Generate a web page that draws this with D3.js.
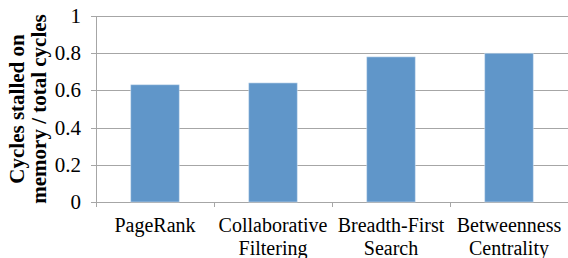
<!DOCTYPE html>
<html>
<head>
<meta charset="utf-8">
<script src="https://cdn.jsdelivr.net/npm/d3@7"></script>
<style>
  body { margin: 0; background: #fff; }
  text { font-family: "Liberation Serif", "Times New Roman", serif; fill: #000; }
</style>
</head>
<body>
<div id="chart"></div>
<script>
// data
var categories = [["PageRank"], ["Collaborative", "Filtering"], ["Breadth-First", "Search"], ["Betweenness", "Centrality"]];
var values = [0.63, 0.64, 0.78, 0.80];
var yTicks = [0, 0.2, 0.4, 0.6, 0.8, 1];
var yTitle = ["Cycles stalled on", "memory / total cycles"];

var W = 568, H = 258;
var margin = {top: 16, right: 0, bottom: 56, left: 96};
var width = W - margin.left - margin.right,
    height = H - margin.top - margin.bottom;

var svg = d3.select("#chart").append("svg")
    .attr("width", W)
    .attr("height", H);

var g = svg.append("g")
    .attr("transform", "translate(" + margin.left + "," + margin.top + ")");

var x = d3.scaleBand()
    .domain(d3.range(categories.length))
    .range([0, width])
    .paddingInner(0.59)
    .paddingOuter(0.295);

var y = d3.scaleLinear().domain([0, 1]).range([height, 0]);

// gridlines
g.append("g")
    .selectAll("line")
    .data(yTicks)
    .enter().append("line")
    .attr("x1", -5)
    .attr("x2", width)
    .attr("y1", function (d) { return Math.round(y(d)) + 0.5; })
    .attr("y2", function (d) { return Math.round(y(d)) + 0.5; })
    .attr("stroke", "#a6a6a6")
    .attr("stroke-width", 1);

// y labels
g.append("g")
    .selectAll("text")
    .data(yTicks)
    .enter().append("text")
    .attr("x", -15)
    .attr("y", function (d) { return y(d); })
    .attr("dy", "0.33em")
    .attr("text-anchor", "end")
    .style("font-size", "21px")
    .text(function (d) { return d3.format("~g")(d); });

// bars
g.append("g")
    .selectAll("rect")
    .data(values)
    .enter().append("rect")
    .attr("x", function (d, i) { return x(i); })
    .attr("y", function (d) { return y(d); })
    .attr("width", x.bandwidth())
    .attr("height", function (d) { return height - y(d); })
    .attr("fill", "#6096c9")
    .attr("stroke", "#c9dbec")
    .attr("stroke-width", 0.6);

// y axis line
g.append("line")
    .attr("x1", 0.5).attr("x2", 0.5)
    .attr("y1", 0).attr("y2", height + 5)
    .attr("stroke", "#a6a6a6");

// x tick marks between categories
var step = x.step();
var bounds = d3.range(categories.length + 1).map(function (i) { return x(0) - x.paddingOuter() * step + i * step; });
g.append("g")
    .selectAll("line")
    .data(bounds)
    .enter().append("line")
    .attr("x1", function (d) { return Math.round(d) + 0.5; })
    .attr("x2", function (d) { return Math.round(d) + 0.5; })
    .attr("y1", height)
    .attr("y2", height + 5)
    .attr("stroke", "#a6a6a6");

// category labels
var lab = g.append("g")
    .selectAll("text")
    .data(categories)
    .enter().append("text")
    .attr("x", function (d, i) { return x(i) + x.bandwidth() / 2; })
    .attr("y", height + 30)
    .attr("text-anchor", "middle")
    .style("font-size", "20px");
lab.selectAll("tspan")
    .data(function (d) { return d; })
    .enter().append("tspan")
    .attr("x", function () { return d3.select(this.parentNode).attr("x"); })
    .attr("dy", function (d, i) { return i === 0 ? 0 : "1.15em"; })
    .text(function (d) { return d; });

// y title
svg.append("g")
    .attr("transform", "translate(0," + (margin.top + height / 2) + ") rotate(-90)")
    .selectAll("text")
    .data(yTitle)
    .enter().append("text")
    .attr("x", 0)
    .attr("y", function (d, i) { return 24 + i * 22; })
    .attr("text-anchor", "middle")
    .style("font-size", "21px")
    .style("font-weight", "bold")
    .text(function (d) { return d; });
</script>
</body>
</html>
